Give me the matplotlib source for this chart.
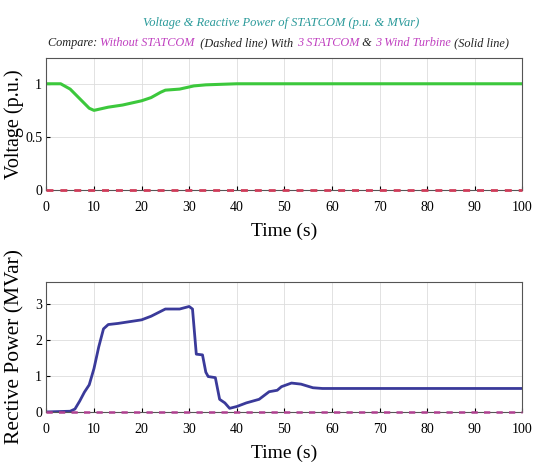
import numpy as np
import matplotlib.pyplot as plt

# voltage with 3 STATCOM & 3 wind turbines (p.u.)
t_volt = [0, 3, 5, 7, 9, 10, 13, 16, 20, 22, 24, 25, 28, 30, 31, 33.5, 40, 100]
volt = [1.0, 1.0, 0.95, 0.86, 0.77, 0.75, 0.78, 0.80, 0.84, 0.87, 0.92, 0.94, 0.95, 0.97, 0.98, 0.99, 1.0, 1.0]

# reactive power of STATCOM (MVar)
t_q = [0, 5, 6, 7, 8, 9, 10, 11, 12, 13, 15, 20, 22, 25, 28, 30, 30.7, 31.5, 32.8, 33.5, 34, 35.5, 36.4,
       37.5, 38.5, 40, 42, 44.7, 46.8, 48.5, 49.4, 51.5, 53.5, 56, 58, 100]
q = [0.0, 0.02, 0.08, 0.3, 0.55, 0.75, 1.2, 1.8, 2.3, 2.42, 2.45, 2.55, 2.65, 2.85, 2.85, 2.92, 2.85, 1.6, 1.58,
     1.1, 0.98, 0.95, 0.35, 0.25, 0.1, 0.15, 0.25, 0.35, 0.56, 0.6, 0.7, 0.8, 0.77, 0.67, 0.65, 0.65]

# without STATCOM (dashed)
t_base = [0, 100]
base = [0, 0]

xticks = list(range(0, 101, 10))

plt.rcParams['font.family'] = ['Liberation Serif', 'DejaVu Serif']

fig = plt.figure(figsize=(5.33, 4.66), dpi=100)
ax1 = fig.add_axes([0.087, 0.592, 0.893, 0.283])
ax2 = fig.add_axes([0.087, 0.116, 0.893, 0.279])

ax1.plot(t_volt, volt, color='#3cc83c', lw=2.2)
ax1.plot(t_base, base, color='#d03c5a', lw=2.0, ls=(0, (2.5, 2.5)), clip_on=False, zorder=5)
ax1.set_ylim(0, 1.24)
ax1.set_yticks([0, 0.5, 1])
ax1.set_yticklabels(['0', '0.5', '1'])
ax1.set_ylabel('Voltage (p.u.)', fontsize=14.5)

ax2.plot(t_q, q, color='#3a3a9a', lw=2.0)
ax2.plot(t_base, base, color='#b04090', lw=1.8, ls=(0, (2.5, 2.5)), clip_on=False, zorder=5)
ax2.set_ylim(0, 3.6)
ax2.set_yticks([0, 1, 2, 3])
ax2.set_ylabel('Rective Power (MVar)', fontsize=15.5)

for ax in (ax1, ax2):
    ax.set_xlim(0, 100)
    ax.set_xticks(xticks)
    ax.set_xlabel('Time (s)', fontsize=14, labelpad=6)
    ax.tick_params(axis='x', labelsize=10, direction='in', length=3, pad=8)
    ax.tick_params(axis='y', labelsize=10, direction='in', length=3, pad=3)
    ax.grid(True, color='#dddddd', lw=0.6)
    ax.yaxis.set_label_coords(-0.046, 0.5)
    for s in ax.spines.values():
        s.set_color('#555555')
        s.set_linewidth(0.8)

fig.text(0.527, 0.951, 'Voltage & Reactive Power of STATCOM (p.u. & MVar)', ha='center', va='center',
         color='#2a9a9a', fontsize=9, style='italic')

# second title line with mixed colours
pieces = [('Compare: ', '#222222'), ('Without STATCOM', '#c040c0'), ('  (Dashed line) With ', '#222222'),
          ('3 STATCOM', '#c040c0'), (' & ', '#222222'), ('3 Wind Turbine', '#c040c0'),
          (' (Solid line)', '#222222')]
renderer = fig.canvas.get_renderer()
texts = []
x = 0
for s, c in pieces:
    t = fig.text(x, 0.908, s, ha='left', va='center', color=c, fontsize=8.8, style='italic')
    w = t.get_window_extent(renderer).width / fig.bbox.width
    texts.append((t, x))
    x += w
start = 0.522 - x / 2
for t, x0 in texts:
    t.set_x(start + x0)

fig.savefig('out.png', dpi=100)
